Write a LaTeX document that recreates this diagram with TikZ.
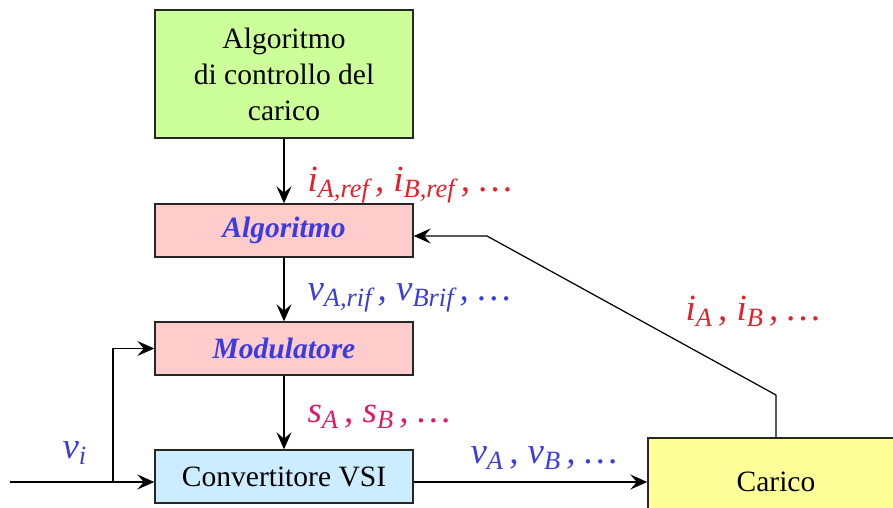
\documentclass[tikz,border=0pt]{standalone}
\usepackage{fontspec}
\setmainfont{Liberation Serif}
\usetikzlibrary{arrows.meta,positioning}
\definecolor{ctrlgreen}{HTML}{CCFF99}
\definecolor{algpink}{HTML}{FFCCCC}
\definecolor{convcyan}{HTML}{CCECFF}
\definecolor{loadyellow}{HTML}{FFFF99}
\definecolor{sigred}{HTML}{E3202A}
\definecolor{sigblue}{HTML}{3B3BE0}
\definecolor{sigmagenta}{HTML}{E0176A}
\newcommand{\boxfont}{\fontsize{16.8}{20.5}\selectfont}
\newcommand{\sigfont}{\fontsize{21}{24}\selectfont\itshape}
\newcommand{\sub}[1]{\raisebox{-0.35ex}{\fontsize{15}{16}\selectfont #1}\,}

\begin{document}
\begin{tikzpicture}[>={Stealth[length=3.4mm,width=3mm,inset=1.3mm]}, line width=0.7pt]
		\tikzset{block/.style={draw=black!85, line width=0.8pt, minimum width=5.16cm, minimum height=1.06cm, inner sep=0pt, align=center, font=\boxfont}}
		\tikzset{blocklabel/.style={font=\boxfont\bfseries\itshape, text=sigblue}}
		\tikzset{sig/.style={anchor=west, inner sep=0pt, font=\sigfont}}
		\useasboundingbox (0,0) rectangle (17.86,10.16);
		\node[block, fill=ctrlgreen, minimum height=2.56cm] (ctrl) at (5.68,8.68) {Algoritmo\\di controllo del\\carico};
		\node[block, blocklabel, fill=algpink] (alg) at (5.68,5.55) {Algoritmo};
		\node[block, blocklabel, fill=algpink] (mod) at (5.68,3.19) {Modulatore};
		\node[block, fill=convcyan] (conv) at (5.68,0.63) {Convertitore VSI};
		\node[block, fill=loadyellow, minimum width=5.12cm, minimum height=1.76cm] (load) at (15.52,0.52) {Carico};
		% ingresso e diramazione verso il modulatore
		\coordinate (in) at (0.2,0.52);
		\coordinate (split) at (2.26,0.52);
		\draw (in) -- (split);
		\draw[->] (split) -- (conv.west |- split);
		\draw[->] (split) |- (mod.west);
		\draw[->] (conv.east |- split) -- (load.west);
		\draw[->] (ctrl.south) -- (alg.north);
		\draw[->] (alg.south) -- (mod.north);
		\draw[->] (mod.south) -- (conv.north);
		% retroazione delle correnti
		\coordinate (knee) at (15.52,2.26);
		\coordinate (bend) at (9.74,5.44);
		\draw[->] (load.north) -- (knee) -- (bend) -- (alg.east |- bend);
		\node[sig, text=sigred] (iref) at (6.14,6.45) {i\sub{A,ref}, i\sub{B,ref}, …};
		\node[sig, text=sigblue] (vrif) at (6.14,4.2) {v\sub{A,rif}, v\sub{Brif}, …};
		\node[sig, text=sigmagenta] (sw) at (6.14,1.82) {s\sub{A}, s\sub{B}, …};
		\node[sig, text=sigblue] (vi) at (1.24,1.1) {v\sub{i}};
		\node[sig, text=sigblue] (vout) at (9.4,1.0) {v\sub{A}, v\sub{B}, …};
		\node[sig, text=sigred] (iload) at (13.7,3.94) {i\sub{A}, i\sub{B}, …};
	\end{tikzpicture}
\end{document}
